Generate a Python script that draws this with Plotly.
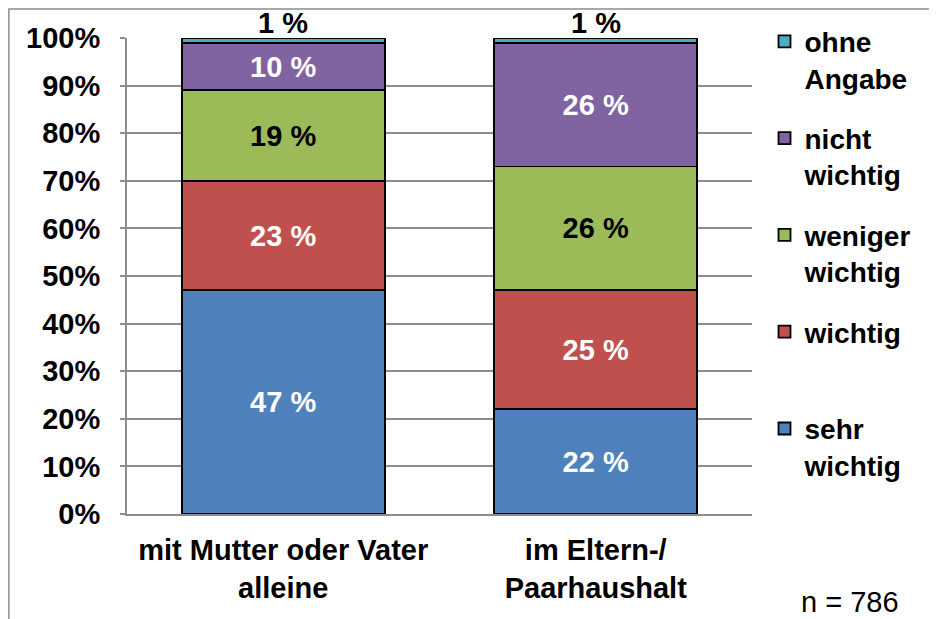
import plotly.graph_objects as go

categories = ["mit Mutter oder Vater<br>alleine", "im Eltern-/<br>Paarhaushalt"]
series_names = ["sehr<br>wichtig", "wichtig<br>\u00a0", "weniger<br>wichtig", "nicht<br>wichtig", "ohne<br>Angabe"]
sehr_wichtig = [47, 22]
wichtig = [23, 25]
weniger_wichtig = [19, 26]
nicht_wichtig = [10, 26]
ohne_angabe = [1, 1]
colors = ["#4F81BD", "#C0504D", "#9BBB59", "#8064A2", "#4BACC6"]
text_colors = ["white", "white", "black", "white", None]
y_ticks = [0, 10, 20, 30, 40, 50, 60, 70, 80, 90, 100]
y_ticklabels = [f"{v}%" for v in y_ticks]
n_note = "n = 786"

series = [sehr_wichtig, wichtig, weniger_wichtig, nicht_wichtig, ohne_angabe]
FONT = "Liberation Sans"
FS = 29
LFS = 28

fig = go.Figure()
for i, (name, vals) in enumerate(zip(series_names, series)):
    show_text = text_colors[i] is not None
    fig.add_trace(go.Bar(
        x=categories, y=vals,
        name="<b>" + name.replace("<br>", "</b><br><b>") + "</b>",
        marker=dict(color=colors[i], line=dict(color="black", width=1.8)),
        text=[f"<b>{v} %</b>" for v in vals] if show_text else None,
        textposition="inside" if show_text else "none",
        insidetextanchor="middle",
        constraintext="none",
        textfont=dict(family=FONT, size=FS, color=text_colors[i] or "black"),
        legendgroup=f"g{i}",
        legendrank=100 - i,
        hoverinfo="skip",
    ))

# labels above the top segment
for cat, v_top, vals in zip(categories, ohne_angabe, zip(*series)):
    fig.add_annotation(x=cat, y=sum(vals), text=f"<b>{v_top} %</b>", showarrow=False,
                       yanchor="bottom", yshift=-3, xref="x", yref="y",
                       font=dict(family=FONT, size=FS, color="black"))

fig.add_annotation(x=1.157, y=-0.185, xref="paper", yref="paper", text=n_note,
                   showarrow=False, xanchor="center", yanchor="middle",
                   font=dict(family=FONT, size=FS, color="black"))

# outer border
fig.add_shape(type="rect", xref="paper", yref="paper", x0=-0.189, x1=1.5, y0=-0.5, y1=1.061,
              line=dict(color="#8c8c8c", width=1.5), fillcolor="rgba(0,0,0,0)")

fig.update_layout(
    width=929, height=611,
    barmode="stack", bargap=0.35,
    margin=dict(l=119, r=185, t=30, b=105, autoexpand=False),
    paper_bgcolor="white", plot_bgcolor="white",
    font=dict(family=FONT, size=FS, color="black"),
    showlegend=True,
    legend=dict(traceorder="grouped", tracegroupgap=21, valign="top",
                x=1.020, xanchor="left", y=1.045, yanchor="top",
                maxheight=700,
                font=dict(family=FONT, size=LFS, color="black"),
                itemwidth=30, bgcolor="rgba(0,0,0,0)"),
    xaxis=dict(showline=True, linecolor="#8c8c8c", linewidth=2,
               tickfont=dict(family=FONT, size=FS, color="black"),
               ticks="", showgrid=False, ticklabelstandoff=9),
    yaxis=dict(range=[0, 100], tickvals=y_ticks,
               ticktext=[f"<b>{t}</b>" for t in y_ticklabels],
               showline=True, linecolor="#8c8c8c", linewidth=2,
               showgrid=True, gridcolor="#8c8c8c", gridwidth=1.5,
               ticks="outside", ticklen=5, tickcolor="#8c8c8c", tickwidth=1.5,
               ticklabelstandoff=14,
               tickfont=dict(family=FONT, size=FS, color="black")),
)
fig.update_xaxes(ticktext=[f"<b>{c.replace('<br>', '</b><br><b>')}</b>" for c in categories],
                 tickvals=categories)

fig.write_html("out.html")
